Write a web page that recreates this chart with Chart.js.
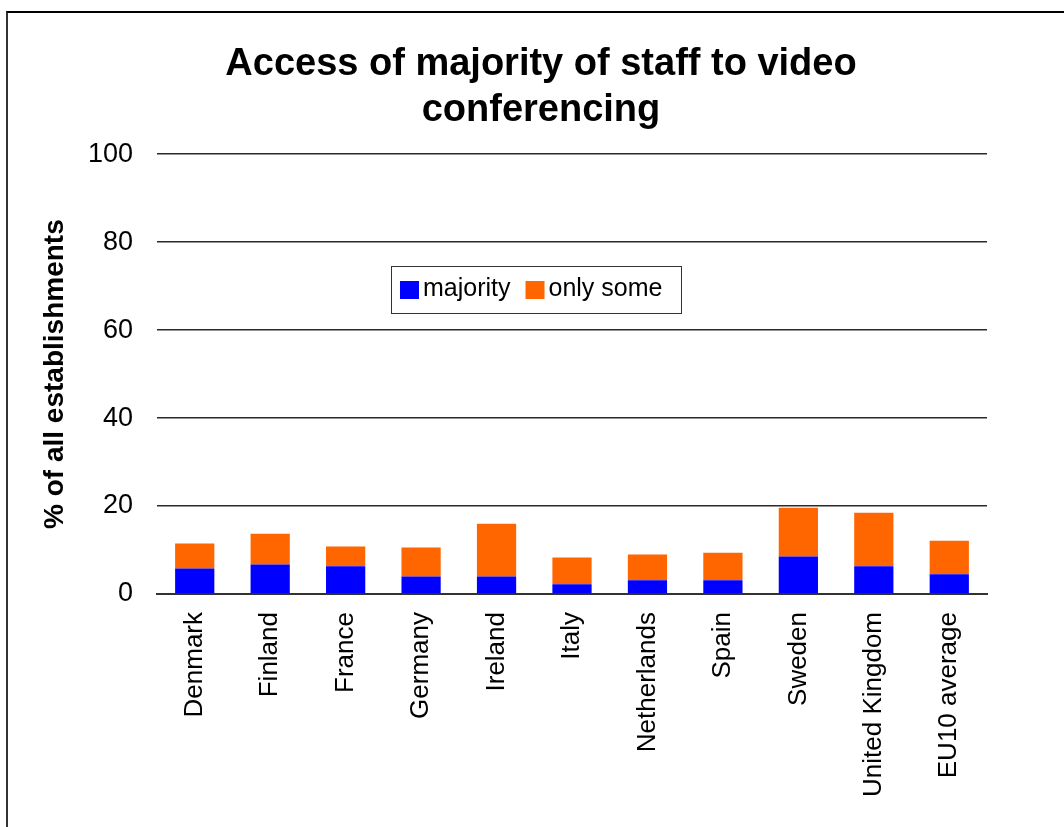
<!DOCTYPE html>
<html>
<head>
<meta charset="utf-8">
<script src="https://cdn.jsdelivr.net/npm/chart.js@4/dist/chart.umd.min.js"></script>
<style>
  html, body { margin: 0; padding: 0; background: #fff; }
  #wrap { position: relative; width: 1064px; height: 827px; overflow: hidden; }
  #frame { position: absolute; left: 6px; top: 11px; right: -10px; bottom: -10px;
           border-left: 2px solid #333; border-top: 2px solid #000; }
  canvas { position: absolute; left: 0; top: 0; }
</style>
</head>
<body>
<div id="wrap">
  <div id="frame"></div>
  <canvas id="c" width="1064" height="827"></canvas>
</div>
<script>
const categories = ['Denmark', 'Finland', 'France', 'Germany', 'Ireland', 'Italy',
                    'Netherlands', 'Spain', 'Sweden', 'United Kingdom', 'EU10 average'];
const majority = [5.8, 6.7, 6.3, 4.0, 4.0, 2.2, 3.1, 3.1, 8.5, 6.3, 4.5];
const onlySome = [5.7, 7.0, 4.5, 6.6, 12.0, 6.1, 5.9, 6.3, 11.1, 12.2, 7.6];
const yTicks = [0, 20, 40, 60, 80, 100];

const FONT = "'Liberation Sans', Arial, Helvetica, sans-serif";

// Boxed legend drawn inside the plot area
const boxLegend = {
  id: 'boxLegend',
  afterDraw(chart) {
    const ctx = chart.ctx;
    ctx.save();
    ctx.strokeStyle = '#333';
    ctx.lineWidth = 1;
    ctx.fillStyle = '#fff';
    ctx.fillRect(391.5, 266.5, 290, 47);
    ctx.strokeRect(391.5, 266.5, 290, 47);
    ctx.font = '25px ' + FONT;
    ctx.textBaseline = 'middle';
    let x = 400;
    chart.data.datasets.forEach(ds => {
      ctx.fillStyle = ds.backgroundColor;
      ctx.fillRect(x, 281, 19, 18);
      ctx.fillStyle = '#000';
      ctx.fillText(ds.label, x + 23, 289);
      x += 23 + ctx.measureText(ds.label).width + 15;
    });
    ctx.restore();
  }
};

new Chart(document.getElementById('c'), {
  type: 'bar',
  data: {
    labels: categories,
    datasets: [
      { label: 'majority', data: majority, backgroundColor: '#0000FF' },
      { label: 'only some', data: onlySome, backgroundColor: '#FF6600' }
    ]
  },
  options: {
    responsive: false,
    animation: false,
    devicePixelRatio: 1,
    layout: { padding: { left: 18, right: 0, top: 0, bottom: 0 } },
    datasets: { bar: { barPercentage: 0.52, categoryPercentage: 1.0, borderWidth: 0 } },
    plugins: {
      legend: { display: false },
      tooltip: { enabled: false },
      title: {
        display: true,
        text: ['Access of majority of staff to video', 'conferencing'],
        color: '#000',
        font: { family: FONT, size: 38, weight: 'bold', lineHeight: 1.2 },
        padding: { top: 42, bottom: 21 }
      }
    },
    scales: {
      x: {
        stacked: true,
        grid: { display: false, drawTicks: false },
        border: { display: true, color: '#333', width: 2 },
        ticks: {
          color: '#000',
          font: { family: FONT, size: 26 },
          minRotation: 90, maxRotation: 90,
          autoSkip: false,
          padding: 18
        },
        afterFit(scale) { scale.height = 233; }
      },
      y: {
        stacked: true,
        min: 0, max: 100,
        afterBuildTicks(scale) { scale.ticks = yTicks.map(v => ({ value: v })); },
        grid: { color: '#2a2a2a', lineWidth: 1.5, drawTicks: false },
        border: { display: false },
        ticks: {
          color: '#000',
          font: { family: FONT, size: 27 },
          padding: 24
        },
        title: {
          display: true,
          text: '% of all establishments',
          color: '#000',
          font: { family: FONT, size: 28, weight: 'bold', lineHeight: 1.2 },
          padding: { top: 20, bottom: 0 }
        },
        afterFit(scale) { scale.width = 139; }
      },
      // empty margin on the right of the plot
      yRight: {
        type: 'linear',
        position: 'right',
        display: true,
        grid: { display: false, drawTicks: false },
        border: { display: false },
        ticks: { display: false },
        afterFit(scale) { scale.width = 77; }
      }
    }
  },
  plugins: [boxLegend]
});
</script>
</body>
</html>
